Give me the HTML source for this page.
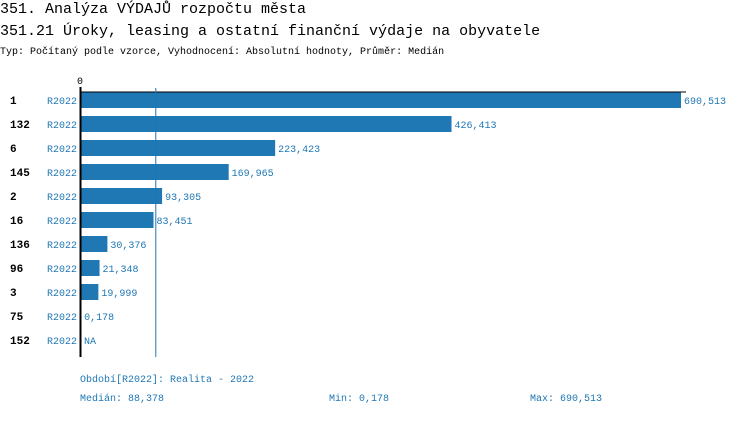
<!DOCTYPE html>
<html><head><meta charset="utf-8"><style>
body{margin:0;background:#fff;width:750px;height:416px;overflow:hidden;font-family:"Liberation Mono",monospace}
svg text{font-family:"Liberation Mono",monospace}
</style></head><body>
<svg width="750" height="416">
<text x="0" y="13" font-size="15" fill="#000">351. Analýza VÝDAJŮ rozpočtu města</text>
<text x="0" y="35" font-size="15" fill="#000">351.21 Úroky, leasing a ostatní finanční výdaje na obyvatele</text>
<text x="0" y="54" font-size="10" fill="#000">Typ: Počítaný podle vzorce, Vyhodnocení: Absolutní hodnoty, Průměr: Medián</text>
<text x="77" y="84" font-size="10" fill="#000">0</text>
<g id="bars"></g>
<line x1="80.5" y1="87" x2="80.5" y2="357" stroke="#000" stroke-width="2"/>
<line x1="80" y1="92" x2="686" y2="92" stroke="#000" stroke-width="1"/>
<line id="med" y1="88" y2="357" stroke="#1f77b4" stroke-width="1"/>
<text x="80" y="382" font-size="10" fill="#1f77b4">Období[R2022]: Realita - 2022</text>
<text x="80" y="401" font-size="10" fill="#1f77b4">Medián: 88,378</text>
<text x="329" y="401" font-size="10" fill="#1f77b4">Min: 0,178</text>
<text x="530" y="401" font-size="10" fill="#1f77b4">Max: 690,513</text>
</svg>
<script>
const categories=["1","132","6","145","2","16","136","96","3","75","152"];
const values=[690.513,426.413,223.423,169.965,93.305,83.451,30.376,21.348,19.999,0.178,null];
const median=88.378;
const x0=81,maxV=690.513,maxW=600;
function xs(v){return v/maxV*maxW;}
function ys(i){return 92+i*24;}
const g=document.getElementById('bars'),NS='http://www.w3.org/2000/svg';
function mk(t,a){const e=document.createElementNS(NS,t);for(const k in a)e.setAttribute(k,a[k]);return e;}
categories.forEach((c,i)=>{
 const y=ys(i);
 const l=mk('text',{x:10,y:y+12,'font-size':11,'font-weight':'bold',fill:'#000'});l.textContent=c;
 
 g.appendChild(l);
 const p=mk('text',{x:47,y:y+12,'font-size':10,fill:'#1f77b4'});p.textContent='R2022';
 
 g.appendChild(p);
 const v=values[i];let w=0;
 if(v!==null){w=xs(v);const r=mk('rect',{x:x0,y:y,width:w,height:16,fill:'#1f77b4'});
 
 g.appendChild(r);}
 const t=mk('text',{x:x0+w+3,y:y+12,'font-size':10,fill:'#1f77b4'});
 t.textContent=v===null?'NA':v.toFixed(3).replace('.',',');
 
 g.appendChild(t);
});
const m=document.getElementById('med');const mx=x0+xs(median)-2;m.setAttribute('x1',mx);m.setAttribute('x2',mx);
</script>
</body></html>
